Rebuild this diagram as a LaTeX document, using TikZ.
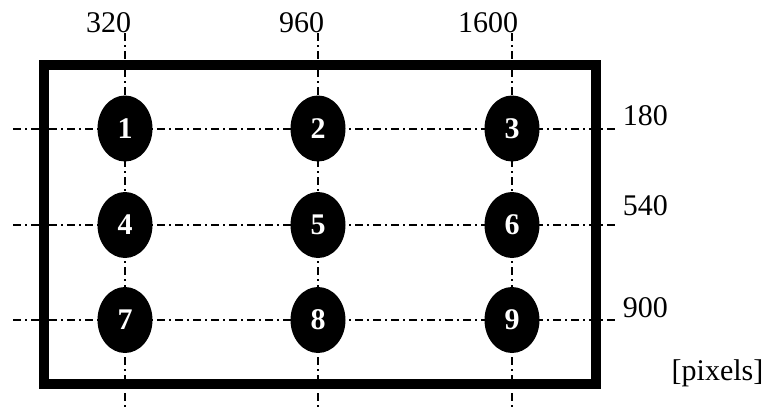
\documentclass[tikz,border=0pt]{standalone}
\usepackage{fontspec}
\setmainfont{Liberation Serif}
\usetikzlibrary{shapes.geometric,positioning}
\tikzset{
  pixel/.style={ellipse, fill=black, text=white, minimum width=27.5pt, minimum height=33pt, inner sep=0pt, font=\fontsize{15}{15}\selectfont\bfseries},
  gridline/.style={line width=1pt, dash pattern=on 4pt off 2pt on 1pt off 2pt},
  coordlabel/.style={inner sep=0pt, font=\fontsize{15}{15}\selectfont}
}
\begin{document}
\begin{tikzpicture}[x = 0.5pt, y = -0.5pt]
    \useasboundingbox (0,0) rectangle (767,408);
    % grid lines behind everything
    \foreach \xx/\lab in {125/320, 318/960, 512/1600} {
      \node[coordlabel, anchor = east] (x\lab) at (\xx+6.5,23) {\lab};
      \coordinate (top\lab) at (\xx,33);
      \coordinate (bot\lab) at (\xx,408);
      \draw[gridline] (top\lab) -- (bot\lab);
    }
    \foreach \yy/\ly/\lab in {128.5/116/180, 225/206/540, 320/307.5/900} {
      \node[coordlabel, anchor = west] (y\lab) at (622.5,\ly) {\lab};
      \coordinate (left\lab) at (13,\yy);
      \coordinate (right\lab) at (617,\yy);
      \draw[gridline] (left\lab) -- (right\lab);
    }
    %%%%%%%%%%
    \draw[line width = 5pt] (43.5,65) rectangle (595.7,383.5);
    %%%%%%%%%%
    \foreach \yy [count=\r from 0] in {128.5,225,320}
      \foreach \xx [count=\c] in {125,318,512} {
        \pgfmathtruncatemacro{\n}{3*\r+\c}
        \node[pixel] (p\n) at (\xx,\yy) {\n};
      }
    %%%%%%%%%%
    \node[coordlabel] (unit) at (717.5,373.5) {[pixels]};
\end{tikzpicture}
\end{document}
